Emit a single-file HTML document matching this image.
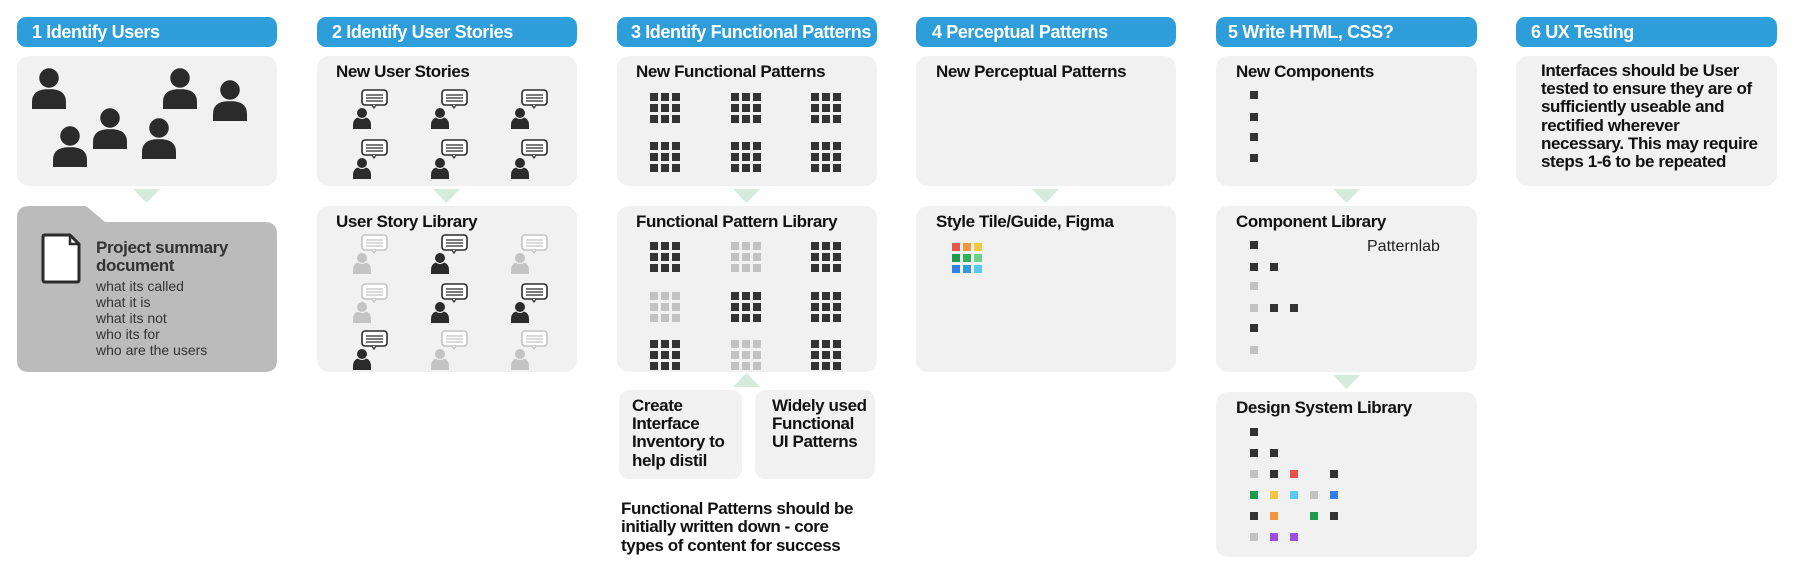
<!DOCTYPE html>
<html><head><meta charset="utf-8"><style>
html,body{margin:0;padding:0;background:#fff;width:1794px;height:572px;overflow:hidden}
svg{display:block}
text{font-family:"Liberation Sans",Arial,sans-serif}
.h{fill:#fff;font-weight:bold;font-size:18px;letter-spacing:-0.4px}
.t{fill:#111;font-weight:bold;font-size:17px;letter-spacing:-0.4px}
.r{fill:#333;font-size:14px}
</style></head><body>
<svg width="1794" height="572" viewBox="0 0 1794 572" xmlns="http://www.w3.org/2000/svg">
<defs>
<g id="pb"><path d="M1 42 v-7 q0-13 17-13 q17 0 17 13 v7 z" fill="#2b2b2b"/><circle cx="18" cy="11" r="10.5" fill="#2b2b2b" stroke="#f1f1f1" stroke-width="1.5"/></g>
<g id="ps"><path d="M0 22 v-4 q0-8 9-8 q9 0 9 8 v4z"/><circle cx="9" cy="6" r="5.5" stroke="#f1f1f1" stroke-width="1"/></g>
<g id="bb"><rect x="1" y="1" width="25" height="15" rx="3" fill="#fff" stroke-width="1.6"/><path d="M11 16 l2 3 l2 -3" fill="#fff" stroke-width="1.2"/><path d="M5 6 h17 M5 9 h17 M5 12 h17" stroke-width="1.3"/></g>
<g id="gr"><rect x="0" y="0" width="8" height="8"/><rect x="11" y="0" width="8" height="8"/><rect x="22" y="0" width="8" height="8"/><rect x="0" y="11" width="8" height="8"/><rect x="11" y="11" width="8" height="8"/><rect x="22" y="11" width="8" height="8"/><rect x="0" y="22" width="8" height="8"/><rect x="11" y="22" width="8" height="8"/><rect x="22" y="22" width="8" height="8"/></g>
</defs>

<g fill="#2e9edb">
<rect x="17" y="17" width="260" height="30" rx="9"/>
<rect x="317" y="17" width="260" height="30" rx="9"/>
<rect x="617" y="17" width="260" height="30" rx="9"/>
<rect x="916" y="17" width="260" height="30" rx="9"/>
<rect x="1216" y="17" width="261" height="30" rx="9"/>
<rect x="1516" y="17" width="261" height="30" rx="9"/>
</g>
<text class="h" x="32" y="38">1 Identify Users</text>
<text class="h" x="332" y="38">2 Identify User Stories</text>
<text class="h" x="631" y="38" textLength="240" lengthAdjust="spacingAndGlyphs">3 Identify Functional Patterns</text>
<text class="h" x="932" y="38">4 Perceptual Patterns</text>
<text class="h" x="1228" y="38">5 Write HTML, CSS?</text>
<text class="h" x="1531" y="38">6 UX Testing</text>

<g fill="#f1f1f1">
<rect x="17" y="56" width="260" height="130" rx="12"/>
<rect x="317" y="56" width="260" height="130" rx="12"/>
<rect x="617" y="56" width="260" height="130" rx="12"/>
<rect x="916" y="56" width="260" height="130" rx="12"/>
<rect x="1216" y="56" width="261" height="130" rx="12"/>
<rect x="1516" y="56" width="261" height="130" rx="12"/>
<rect x="317" y="206" width="260" height="166" rx="12"/>
<rect x="617" y="206" width="260" height="166" rx="12"/>
<rect x="916" y="206" width="260" height="166" rx="12"/>
<rect x="1216" y="206" width="261" height="166" rx="12"/>
<rect x="1216" y="392" width="261" height="165" rx="12"/>
<rect x="619" y="390" width="123" height="89" rx="10"/>
<rect x="755" y="390" width="120" height="89" rx="10"/>
</g>
<path d="M17 218 q0-12 12-12 h57 l19 16 h160 q12 0 12 12 v126 q0 12 -12 12 h-236 q-12 0 -12 -12 z" fill="#bbbbbb"/>
<path d="M45 235 h25 l9 9 v36 q0 2 -2 2 h-32 q-2 0 -2 -2 v-43 q0 -2 2 -2 z" fill="#fff" stroke="#2b2b2b" stroke-width="3" stroke-linejoin="round"/>
<path d="M70 235 v9 h9" fill="none" stroke="#2b2b2b" stroke-width="2.5"/>
<text class="t" x="96" y="253" style="fill:#333;font-size:17px">Project summary</text>
<text class="t" x="96" y="271" style="fill:#333;font-size:17px">document</text>
<text class="r" x="96" y="291">what its called</text>
<text class="r" x="96" y="307">what it is</text>
<text class="r" x="96" y="323">what its not</text>
<text class="r" x="96" y="339">who its for</text>
<text class="r" x="96" y="355">who are the users</text>

<g fill="#d4ebdd">
<path d="M133 189 h27 l-13.5 14 z"/>
<path d="M433 189 h27 l-13.5 14 z"/>
<path d="M733 189 h27 l-13.5 14 z"/>
<path d="M1032 189 h27 l-13.5 14 z"/>
<path d="M1333 189 h27 l-13.5 14 z"/>
<path d="M1333 375 h27 l-13.5 14 z"/>
<path d="M733 387 h27 l-13.5 -14 z"/>
</g>

<use href="#pb" x="31" y="67"/>
<use href="#pb" x="162" y="67"/>
<use href="#pb" x="212" y="79"/>
<use href="#pb" x="92" y="107"/>
<use href="#pb" x="52" y="125"/>
<use href="#pb" x="141" y="117"/>

<text class="t" x="336" y="77">New User Stories</text>
<text class="t" x="336" y="227">User Story Library</text>
<text class="t" x="636" y="77">New Functional Patterns</text>
<text class="t" x="636" y="227">Functional Pattern Library</text>
<text class="t" x="936" y="77">New Perceptual Patterns</text>
<text class="t" x="936" y="227">Style Tile/Guide, Figma</text>
<text class="t" x="1236" y="77">New Components</text>
<text class="t" x="1236" y="227">Component Library</text>
<text class="t" x="1236" y="413">Design System Library</text>
<text x="1367" y="251" style="fill:#222;font-size:16px">Patternlab</text>

<g fill="#2b2b2b" stroke="#2b2b2b">
<use href="#bb" x="361" y="89"/><use href="#bb" x="441" y="89"/><use href="#bb" x="521" y="89"/>
<use href="#bb" x="361" y="139"/><use href="#bb" x="441" y="139"/><use href="#bb" x="521" y="139"/>
<use href="#bb" x="441" y="234"/>
<use href="#bb" x="441" y="283"/><use href="#bb" x="521" y="283"/>
<use href="#bb" x="361" y="330"/>
</g>
<g fill="#2b2b2b">
<use href="#ps" x="353" y="107"/><use href="#ps" x="431" y="107"/><use href="#ps" x="511" y="107"/>
<use href="#ps" x="353" y="157"/><use href="#ps" x="431" y="157"/><use href="#ps" x="511" y="157"/>
<use href="#ps" x="431" y="252"/>
<use href="#ps" x="431" y="301"/><use href="#ps" x="511" y="301"/>
<use href="#ps" x="353" y="348"/>
</g>
<g fill="#c4c4c4" stroke="#c4c4c4">
<use href="#bb" x="361" y="234"/><use href="#bb" x="521" y="234"/>
<use href="#bb" x="361" y="283"/>
<use href="#bb" x="441" y="330"/><use href="#bb" x="521" y="330"/>
</g>
<g fill="#c4c4c4">
<use href="#ps" x="353" y="252"/><use href="#ps" x="511" y="252"/>
<use href="#ps" x="353" y="301"/>
<use href="#ps" x="431" y="348"/><use href="#ps" x="511" y="348"/>
</g>

<g fill="#333">
<use href="#gr" x="650" y="93"/><use href="#gr" x="731" y="93"/><use href="#gr" x="811" y="93"/>
<use href="#gr" x="650" y="142"/><use href="#gr" x="731" y="142"/><use href="#gr" x="811" y="142"/>
<use href="#gr" x="650" y="242"/><use href="#gr" x="811" y="242"/>
<use href="#gr" x="731" y="292"/><use href="#gr" x="811" y="292"/>
<use href="#gr" x="650" y="340"/><use href="#gr" x="811" y="340"/>
</g>
<g fill="#c2c2c2">
<use href="#gr" x="731" y="242"/><use href="#gr" x="650" y="292"/><use href="#gr" x="731" y="340"/>
</g>

<rect x="952" y="243" width="8" height="8" fill="#e8534a"/><rect x="963" y="243" width="8" height="8" fill="#f0963c"/><rect x="974" y="243" width="8" height="8" fill="#f2c744"/>
<rect x="952" y="254" width="8" height="8" fill="#1e9a4c"/><rect x="963" y="254" width="8" height="8" fill="#2eb35a"/><rect x="974" y="254" width="8" height="8" fill="#6fd08e"/>
<rect x="952" y="265" width="8" height="8" fill="#2f7fe6"/><rect x="963" y="265" width="8" height="8" fill="#3399dd"/><rect x="974" y="265" width="8" height="8" fill="#5ac8ef"/>

<g fill="#333">
<rect x="1250" y="91" width="8" height="8"/><rect x="1250" y="113" width="8" height="8"/><rect x="1250" y="133" width="8" height="8"/><rect x="1250" y="154" width="8" height="8"/>
<rect x="1250" y="241" width="8" height="8"/>
<rect x="1250" y="263" width="8" height="8"/><rect x="1270" y="263" width="8" height="8"/>
<rect x="1270" y="304" width="8" height="8"/><rect x="1290" y="304" width="8" height="8"/>
<rect x="1250" y="324" width="8" height="8"/>
<rect x="1250" y="428" width="8" height="8"/>
<rect x="1250" y="449" width="8" height="8"/><rect x="1270" y="449" width="8" height="8"/>
<rect x="1270" y="470" width="8" height="8"/><rect x="1330" y="470" width="8" height="8"/>
<rect x="1250" y="512" width="8" height="8"/><rect x="1330" y="512" width="8" height="8"/>
</g>
<g fill="#c2c2c2">
<rect x="1250" y="282" width="8" height="8"/><rect x="1250" y="304" width="8" height="8"/><rect x="1250" y="346" width="8" height="8"/>
<rect x="1250" y="470" width="8" height="8"/><rect x="1310" y="491" width="8" height="8"/><rect x="1250" y="533" width="8" height="8"/>
</g>
<rect x="1290" y="470" width="8" height="8" fill="#e8534a"/>
<rect x="1250" y="491" width="8" height="8" fill="#1e9a4c"/>
<rect x="1270" y="491" width="8" height="8" fill="#f2c744"/>
<rect x="1290" y="491" width="8" height="8" fill="#5ac8ef"/>
<rect x="1330" y="491" width="8" height="8" fill="#2f7fe6"/>
<rect x="1270" y="512" width="8" height="8" fill="#f0963c"/>
<rect x="1310" y="512" width="8" height="8" fill="#1e9a4c"/>
<rect x="1270" y="533" width="8" height="8" fill="#9b4fe0"/>
<rect x="1290" y="533" width="8" height="8" fill="#9b4fe0"/>

<text class="t" x="1541" y="76">Interfaces should be User</text>
<text class="t" x="1541" y="94">tested to ensure they are of</text>
<text class="t" x="1541" y="112">sufficiently useable and</text>
<text class="t" x="1541" y="131">rectified wherever</text>
<text class="t" x="1541" y="149">necessary. This may require</text>
<text class="t" x="1541" y="167">steps 1-6 to be repeated</text>

<text class="t" x="632" y="411">Create</text>
<text class="t" x="632" y="429">Interface</text>
<text class="t" x="632" y="447">Inventory to</text>
<text class="t" x="632" y="466">help distil</text>
<text class="t" x="772" y="411">Widely used</text>
<text class="t" x="772" y="429">Functional</text>
<text class="t" x="772" y="447">UI Patterns</text>

<text class="t" x="621" y="514">Functional Patterns should be</text>
<text class="t" x="621" y="532">initially written down - core</text>
<text class="t" x="621" y="551">types of content for success</text>
</svg>
</body></html>
